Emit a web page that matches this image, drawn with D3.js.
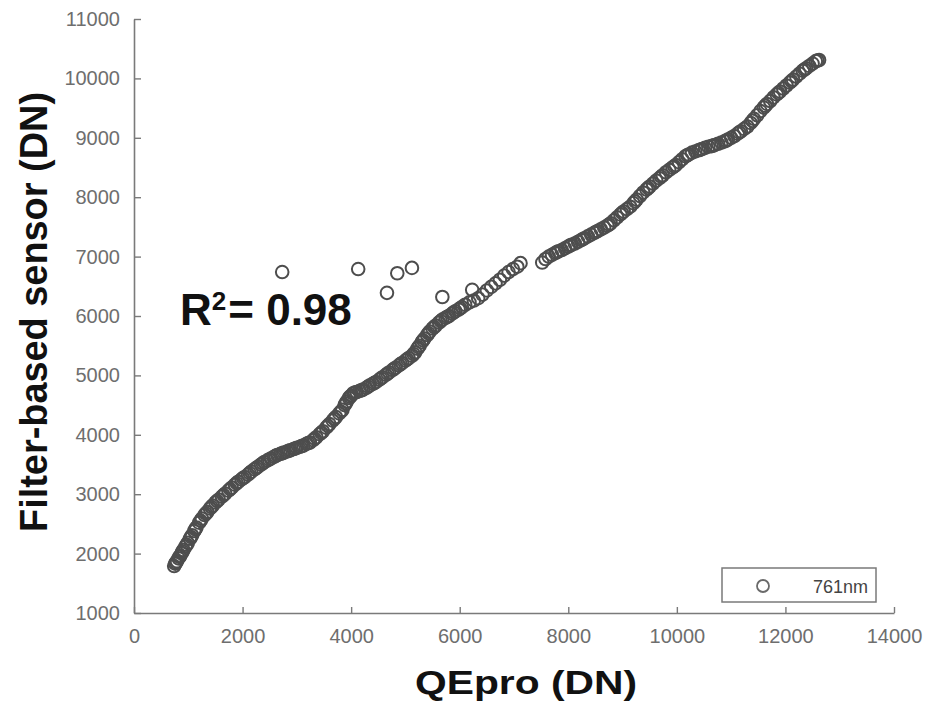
<!DOCTYPE html>
<html>
<head>
<meta charset="utf-8">
<script src="https://cdn.jsdelivr.net/npm/d3@7"></script>
<style>
  body { margin: 0; background: #fff; }
  text { font-family: "Liberation Sans", Arial, sans-serif; }
</style>
</head>
<body>
<svg width="930" height="709"></svg>
<script>
// QEpro (x) vs filter-based sensor (y), 761nm
var qepro = [
  740, 760, 790, 820, 850, 880, 910, 950, 990, 1030, 1070, 1110, 1150, 1200, 1250, 1300,
  1350, 1400, 1450, 1500, 1560, 1620, 1680, 1740, 1800, 1860, 1920, 1980,
  2040, 2100, 2160, 2220, 2280, 2340, 2400, 2460, 2520, 2580, 2640, 2700, 2760, 2820,
  2880, 2940, 3000, 3060, 3120, 3180, 3240,
  3300, 3360, 3420, 3480, 3540, 3600, 3660, 3720, 3780, 3840, 3880, 3920, 3960, 4000, 4040,
  4100, 4160, 4220, 4280, 4340, 4400, 4460, 4520, 4580, 4640, 4700, 4760, 4820, 4880,
  4940, 5000, 5060, 5120, 5180,
  5220, 5260, 5300, 5350, 5400, 5450, 5500, 5560, 5620, 5680, 5740, 5800, 5860, 5920,
  5980, 6040, 6100,
  6180, 6260, 6340, 6420, 6500, 6580, 6660, 6740, 6820, 6900, 6980, 7060, 7120,
  7520, 7580, 7640, 7700, 7760, 7820, 7880, 7940, 8000, 8060, 8120, 8180, 8240, 8300,
  8360, 8420, 8480, 8540, 8600, 8660, 8720, 8780, 8840, 8900, 8960, 9020, 9080, 9140,
  9200, 9260, 9320, 9380, 9440, 9500, 9560, 9620, 9680, 9740, 9800, 9860, 9920, 9980,
  10040, 10100, 10160, 10220, 10280, 10340,
  10400, 10460, 10520, 10580, 10640, 10700, 10760, 10820, 10880, 10940, 11000, 11060,
  11120, 11180, 11240, 11300,
  11360, 11420, 11480, 11540, 11600, 11660, 11720, 11780, 11840, 11900, 11960, 12020,
  12080, 12140, 12200, 12260, 12320, 12380, 12440, 12500, 12560, 12620,
  // second, overlapping pass along the trend
  775, 835, 895, 970, 1050, 1130, 1225, 1325, 1425, 1530, 1650, 1770, 1890, 2010,
  2130, 2250, 2370, 2490, 2610, 2730, 2850, 2970, 3090, 3210, 3330, 3450, 3570, 3690,
  3810, 3900, 3980, 4070, 4190, 4310, 4430, 4550, 4670, 4790, 4910, 5030, 5150, 5240,
  5325, 5425, 5530, 5650, 5770, 5890, 6010,
  7790, 8030, 8270, 8510, 8750, 8990, 9230, 9470, 9710, 9950, 10190, 10430, 10670,
  10910, 11150, 11390, 11630, 11870, 12110, 12350, 12590,
  // points off the main trend
  2730, 4130, 4660, 4850, 5120, 5680, 6230
];
var sensor = [
  1790, 1830, 1870, 1920, 1960, 2010, 2060, 2120, 2180, 2250, 2310, 2380, 2440, 2520, 2590, 2650,
  2700, 2760, 2810, 2860, 2910, 2960, 3010, 3060, 3110, 3160, 3210, 3250,
  3290, 3330, 3380, 3420, 3460, 3500, 3540, 3570, 3600, 3630, 3660, 3680, 3700, 3720,
  3740, 3760, 3780, 3800, 3820, 3850, 3870,
  3910, 3960, 4010, 4060, 4120, 4180, 4240, 4300, 4360, 4420, 4500, 4560, 4620, 4660, 4700,
  4720, 4740, 4760, 4790, 4830, 4860, 4890, 4930, 4970, 5010, 5050, 5090, 5130, 5170,
  5210, 5250, 5290, 5330, 5390,
  5450, 5500, 5560, 5620, 5680, 5740, 5790, 5840, 5890, 5940, 5970, 6000, 6040, 6080,
  6110, 6150, 6190,
  6230, 6260, 6300, 6360, 6430, 6490, 6550, 6610, 6680, 6740, 6790, 6830, 6890,
  6900, 6960, 7000, 7030, 7060, 7090, 7110, 7140, 7170, 7200, 7220, 7250, 7280, 7310,
  7340, 7370, 7400, 7430, 7460, 7490, 7520, 7560, 7610, 7660, 7710, 7760, 7800, 7840,
  7900, 7960, 8020, 8080, 8130, 8180, 8230, 8280, 8320, 8370, 8420, 8460, 8500, 8540,
  8590, 8640, 8690, 8720, 8750, 8770,
  8790, 8810, 8830, 8850, 8860, 8880, 8900, 8920, 8940, 8970, 9000, 9030,
  9070, 9110, 9150, 9190,
  9250, 9320, 9380, 9450, 9510, 9570, 9620, 9680, 9730, 9780, 9830, 9880,
  9930, 9980, 10030, 10080, 10130, 10170, 10210, 10250, 10290, 10310,
  1850, 1945, 2035, 2150, 2280, 2410, 2555, 2675, 2785, 2885, 2985, 3085, 3185, 3270,
  3355, 3440, 3520, 3585, 3645, 3690, 3730, 3770, 3810, 3860, 3935, 4035, 4150, 4270,
  4390, 4530, 4640, 4710, 4750, 4810, 4875, 4950, 5030, 5110, 5190, 5270, 5360, 5475,
  5590, 5710, 5815, 5915, 5985, 6060, 6130,
  7075, 7185, 7295, 7415, 7540, 7735, 7930, 8155, 8345, 8520, 8705, 8800, 8870,
  8955, 9090, 9285, 9540, 9755, 9955, 10150, 10300,
  6740, 6790, 6390, 6720, 6810, 6320, 6440
];
var xTicks = [0, 2000, 4000, 6000, 8000, 10000, 12000, 14000];
var yTicks = [1000, 2000, 3000, 4000, 5000, 6000, 7000, 8000, 9000, 10000, 11000];
var seriesName = "761nm";

var svg = d3.select("svg");

var defs = svg.append("defs");
defs.append("filter").attr("id", "soft")
  .append("feGaussianBlur").attr("stdDeviation", 0.6);

var x = d3.scaleLinear().domain([0, 14000]).range([134, 894]);
var y = d3.scaleLinear().domain([1000, 11000]).range([613, 19]);

var axisColor = "#7a7a7a",
    labelColor = "#6e6e6e";

// x axis
var gx = svg.append("g")
    .attr("transform", "translate(0,613)")
    .call(d3.axisBottom(x).tickValues(xTicks).tickFormat(d3.format("d"))
      .tickSizeInner(-6).tickSizeOuter(0).tickPadding(16));
gx.select(".domain").attr("stroke", axisColor).attr("stroke-width", 1.6);
gx.selectAll(".tick line").attr("stroke", axisColor).attr("stroke-width", 1.4);
gx.selectAll(".tick text")
    .attr("fill", labelColor)
    .style("font-size", "20px")
    .style("font-family", "Liberation Sans, Arial, sans-serif");

// y axis
var gy = svg.append("g")
    .attr("transform", "translate(134,0)")
    .call(d3.axisLeft(y).tickValues(yTicks).tickFormat(d3.format("d"))
      .tickSizeInner(-7).tickSizeOuter(0).tickPadding(14));
gy.select(".domain").attr("stroke", axisColor).attr("stroke-width", 1.6);
gy.selectAll(".tick line").attr("stroke", axisColor).attr("stroke-width", 1.4);
gy.selectAll(".tick text")
    .attr("fill", labelColor)
    .style("font-size", "20px")
    .style("font-family", "Liberation Sans, Arial, sans-serif");

// points
var pts = qepro.map(function(d, i) { return { x: d, y: sensor[i] }; });

svg.append("g")
    .attr("class", "points")
    .attr("filter", "url(#soft)")
    .selectAll("circle")
    .data(pts)
    .enter().append("circle")
    .attr("cx", function(d) { return x(d.x); })
    .attr("cy", function(d) { return y(d.y); })
    .attr("r", 6.3)
    .attr("fill", "none")
    .attr("stroke", "#4e4e4e")
    .attr("stroke-width", 2);

// axis titles
svg.append("text")
    .attr("x", 526)
    .attr("y", 694)
    .attr("text-anchor", "middle")
    .attr("textLength", 222)
    .attr("lengthAdjust", "spacingAndGlyphs")
    .style("font-size", "34px")
    .style("font-weight", "bold")
    .attr("fill", "#111")
    .text("QEpro (DN)");

svg.append("text")
    .attr("transform", "translate(47,312) rotate(-90)")
    .attr("text-anchor", "middle")
    .attr("textLength", 440)
    .attr("lengthAdjust", "spacingAndGlyphs")
    .style("font-size", "38px")
    .style("font-weight", "bold")
    .attr("fill", "#111")
    .text("Filter-based sensor (DN)");

// R squared
var r2 = svg.append("text")
    .attr("x", 180)
    .attr("y", 325)
    .style("font-size", "44px")
    .style("font-weight", "bold")
    .attr("fill", "#111");
r2.append("tspan").text("R");
r2.append("tspan").attr("dy", -15).style("font-size", "26px").text("2");
r2.append("tspan").attr("dy", 15).attr("dx", 2).text("= 0.98");

// legend
var lg = svg.append("g").attr("class", "legend");
lg.append("rect")
    .attr("x", 722).attr("y", 568)
    .attr("width", 154).attr("height", 34)
    .attr("fill", "#fff")
    .attr("stroke", axisColor)
    .attr("stroke-width", 1.5);
lg.append("circle")
    .attr("cx", 763).attr("cy", 586).attr("r", 6)
    .attr("fill", "none")
    .attr("stroke", "#6a6a6a")
    .attr("stroke-width", 1.8);
lg.append("text")
    .attr("x", 868).attr("y", 593)
    .attr("text-anchor", "end")
    .style("font-size", "18px")
    .attr("fill", "#444")
    .text(seriesName);
</script>
</body>
</html>
